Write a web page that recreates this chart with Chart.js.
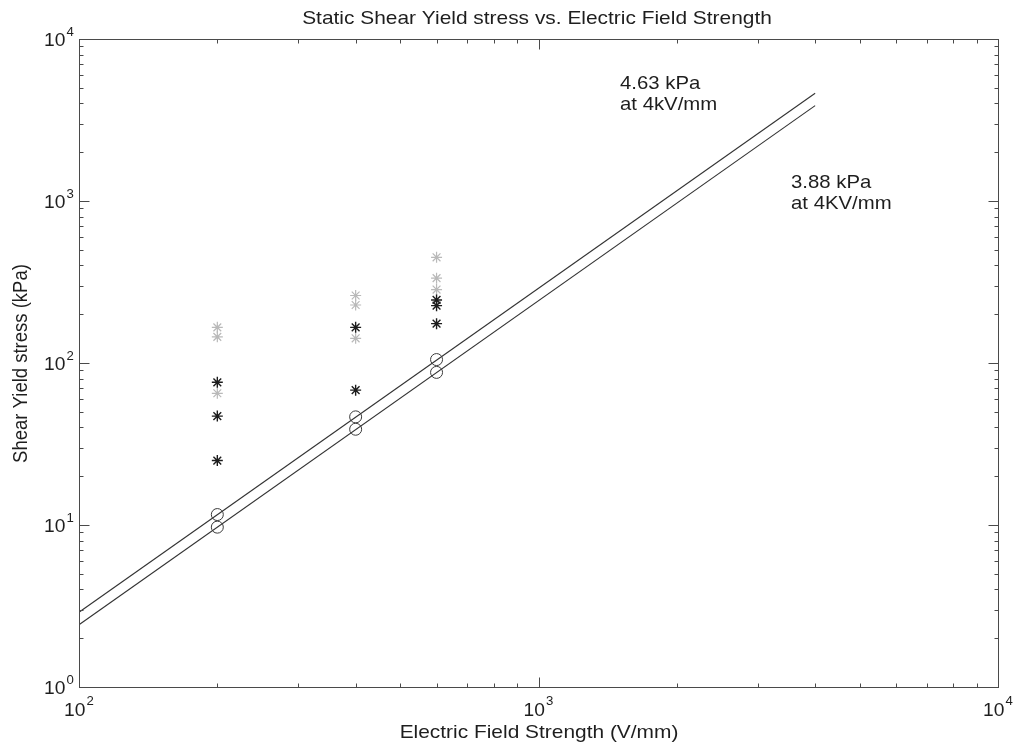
<!DOCTYPE html>
<html>
<head>
<meta charset="utf-8">
<title>Static Shear Yield stress vs. Electric Field Strength</title>
<script src="https://cdn.jsdelivr.net/npm/chart.js@4/dist/chart.umd.min.js"></script>
<style>
  html, body { margin: 0; padding: 0; background: #ffffff; }
  canvas { display: block; }
</style>
</head>
<body>
<canvas id="chart" width="1014" height="746"></canvas>
<script>
// ---- measured data ----------------------------------------------------
// Electric field strength (V/mm) and static shear yield stress (kPa)
const darkFields   = [200, 200, 200, 400, 400, 600, 600, 600];
const darkStress   = [76, 47, 25, 166, 68, 245, 226, 175];

const lightFields  = [200, 200, 200, 400, 400, 400, 600, 600, 600];
const lightStress  = [166, 145, 65, 261, 228, 142, 449, 334, 284];

// averaged yield stress of the two sample sets (open circles)
const meanFields   = [200, 400, 600];
const meanHigh     = [11.6, 46.5, 105];
const meanLow      = [9.7, 39.0, 87.5];

// quadratic fits, evaluated at the ends of the fitted range
const fitFields    = [100, 4000];
const fitHigh      = [2.894, 4630];
const fitLow       = [2.425, 3880];

// axis decades (tick labels are 10^n)
const xDecades     = [2, 3, 4];
const yDecades     = [0, 1, 2, 3, 4];

// text on the chart
const chartTitle   = 'Static Shear Yield stress vs. Electric Field Strength';
const xTitle       = 'Electric Field Strength (V/mm)';
const yTitle       = 'Shear Yield stress (kPa)';
const noteHigh     = ['4.63 kPa', 'at 4kV/mm'];
const noteLow      = ['3.88 kPa', 'at 4KV/mm'];

// ---- helpers ----------------------------------------------------------
const zip = (xs, ys) => xs.map((v, i) => ({ x: v, y: ys[i] }));

const FONT = '"Liberation Sans", Arial, Helvetica, sans-serif';
const STRETCH = 1.1;      // glyphs are a little wide in this figure style
const INK = '#1e1e1e';

function drawText(ctx, str, x, y, size, align, rotate) {
  ctx.save();
  ctx.translate(x, y);
  ctx.scale(STRETCH, 1);
  if (rotate) ctx.rotate(-Math.PI / 2);
  ctx.font = size + 'px ' + FONT;
  ctx.textAlign = align;
  ctx.textBaseline = 'alphabetic';
  ctx.fillStyle = INK;
  ctx.fillText(str, 0, 0);
  ctx.restore();
}

function textWidth(ctx, str, size) {
  ctx.save();
  ctx.font = size + 'px ' + FONT;
  const w = ctx.measureText(str).width * STRETCH;
  ctx.restore();
  return w;
}

// all 1..9 x 10^n values between two decades, for the log tick marks
function logTickValues(decades) {
  const vals = [];
  for (let e = decades[0]; e < decades[decades.length - 1]; e++) {
    for (let m = 1; m <= 9; m++) vals.push(m * Math.pow(10, e));
  }
  vals.push(Math.pow(10, decades[decades.length - 1]));
  return vals;
}

// ---- box, inward ticks, labels and annotations -------------------------
const framePlugin = {
  id: 'frame',
  afterDatasetsDraw(chart) {
    const { ctx, scales: { x, y } } = chart;
    const snap = v => Math.round(v) + 0.5;
    const L = snap(x.getPixelForValue(x.min));
    const R = snap(x.getPixelForValue(x.max));
    const T = snap(y.getPixelForValue(y.max));
    const B = snap(y.getPixelForValue(y.min));

    ctx.save();
    ctx.strokeStyle = '#4a4a4a';
    ctx.lineWidth = 1;
    ctx.strokeRect(L, T, R - L, B - T);

    const isDecade = v => Math.abs(Math.log10(v) - Math.round(Math.log10(v))) < 1e-9;

    ctx.beginPath();
    logTickValues(xDecades).forEach(v => {
      if (v <= x.min || v >= x.max) return;
      const px = snap(x.getPixelForValue(v));
      const len = isDecade(v) ? 10 : 4;
      ctx.moveTo(px, B); ctx.lineTo(px, B - len);
      ctx.moveTo(px, T); ctx.lineTo(px, T + len);
    });
    logTickValues(yDecades).forEach(v => {
      if (v <= y.min || v >= y.max) return;
      const py = snap(y.getPixelForValue(v));
      const len = isDecade(v) ? 10 : 4;
      ctx.moveTo(L, py); ctx.lineTo(L + len, py);
      ctx.moveTo(R, py); ctx.lineTo(R - len, py);
    });
    ctx.stroke();
    ctx.restore();

    // decade labels written as 10 with a raised exponent
    const base = 17.5, sup = 12;
    const wBase = textWidth(ctx, '10', base);
    xDecades.forEach(e => {
      const px = x.getPixelForValue(Math.pow(10, e));
      const wSup = textWidth(ctx, String(e), sup);
      const left = px - (wBase + 1 + wSup) / 2;
      drawText(ctx, '10', left, B + 28, base, 'left');
      drawText(ctx, String(e), left + wBase + 1, B + 17, sup, 'left');
    });
    yDecades.forEach(e => {
      const py = y.getPixelForValue(Math.pow(10, e));
      drawText(ctx, '10', L - 14, py + 6.5, base, 'right');
      drawText(ctx, String(e), L - 13, py - 3, sup, 'left');
    });

    // titles
    const cx = (L + R) / 2;
    drawText(ctx, chartTitle, cx - 2, 24, 19, 'center');
    drawText(ctx, xTitle, cx, 738, 19, 'center');
    drawText(ctx, yTitle, 27, (T + B) / 2, 18.5, 'center', true);

    // fit annotations
    drawText(ctx, noteHigh[0], 620, 89, 18.5, 'left');
    drawText(ctx, noteHigh[1], 620, 110, 18.5, 'left');
    drawText(ctx, noteLow[0], 791, 188, 18.5, 'left');
    drawText(ctx, noteLow[1], 791, 209, 18.5, 'left');
  }
};

// ---- chart ------------------------------------------------------------
new Chart(document.getElementById('chart'), {
  type: 'scatter',
  data: {
    datasets: [
      {
        label: 'dark samples',
        data: zip(darkFields, darkStress),
        pointStyle: 'star',
        pointRadius: 5.5,
        pointBorderWidth: 1.4,
        borderColor: '#1c1c1c',
        backgroundColor: '#1c1c1c',
        order: 0
      },
      {
        label: 'light samples',
        data: zip(lightFields, lightStress),
        pointStyle: 'star',
        pointRadius: 5.5,
        pointBorderWidth: 1.2,
        borderColor: '#b9b9b9',
        backgroundColor: '#b9b9b9',
        order: 1
      },
      {
        label: 'mean (upper)',
        data: zip(meanFields, meanHigh),
        pointStyle: 'circle',
        pointRadius: 6,
        pointBorderWidth: 1,
        borderColor: '#3a3a3a',
        backgroundColor: 'rgba(0,0,0,0)',
        order: 2
      },
      {
        label: 'mean (lower)',
        data: zip(meanFields, meanLow),
        pointStyle: 'circle',
        pointRadius: 6,
        pointBorderWidth: 1,
        borderColor: '#3a3a3a',
        backgroundColor: 'rgba(0,0,0,0)',
        order: 2
      },
      {
        label: 'fit 4.63 kPa',
        data: zip(fitFields, fitHigh),
        showLine: true,
        pointRadius: 0,
        borderColor: '#333333',
        borderWidth: 1.1,
        order: 3
      },
      {
        label: 'fit 3.88 kPa',
        data: zip(fitFields, fitLow),
        showLine: true,
        pointRadius: 0,
        borderColor: '#333333',
        borderWidth: 1.1,
        order: 3
      }
    ]
  },
  options: {
    responsive: false,
    animation: false,
    devicePixelRatio: 1,
    layout: { padding: { left: 79, right: 16, top: 39, bottom: 59 } },
    plugins: {
      legend: { display: false },
      tooltip: { enabled: false },
      title: { display: false }
    },
    scales: {
      x: { type: 'logarithmic', min: 100, max: 10000, display: false },
      y: { type: 'logarithmic', min: 1, max: 10000, display: false }
    }
  },
  plugins: [framePlugin]
});
</script>
</body>
</html>
